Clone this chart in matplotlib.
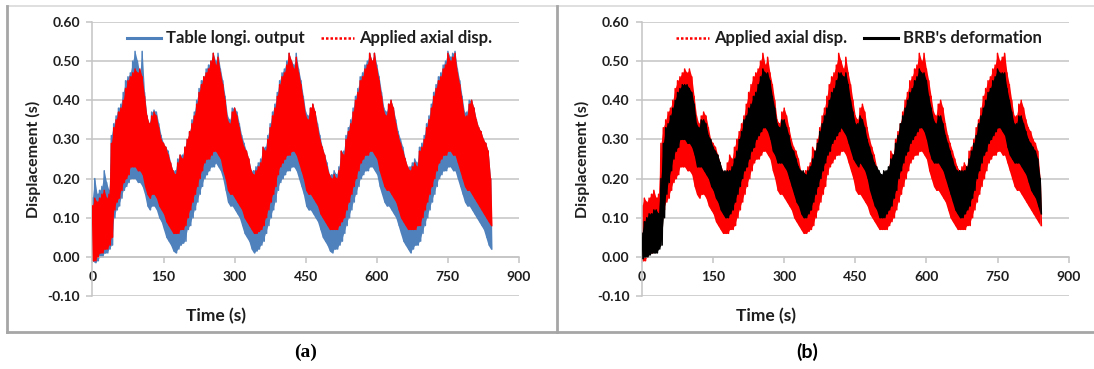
import numpy as np
import matplotlib
matplotlib.use("Agg")
import matplotlib.pyplot as plt
from matplotlib.lines import Line2D

plt.rcParams['font.family'] = ['Lato', 'DejaVu Sans']

# ---------------- data ----------------
# upper swings sampled every 5 s (0..840 s); lower swings 2.5 s later
sample_times = np.arange(0, 845, 5)

applied_hi = [
    0.13, 0.15, 0.14, 0.15, 0.16, 0.17, 0.15, 0.16,
    0.29, 0.33, 0.35, 0.37, 0.38, 0.40, 0.43, 0.45, 0.46, 0.47, 0.48, 0.47, 0.48, 0.46, 0.41,
    0.36, 0.34, 0.36, 0.37, 0.36, 0.33, 0.30, 0.29, 0.28, 0.26, 0.24, 0.22,
    0.21, 0.24, 0.26, 0.25, 0.28, 0.30, 0.32, 0.34, 0.36, 0.39, 0.42, 0.44, 0.46, 0.47, 0.48,
    0.50, 0.52, 0.49, 0.51, 0.47, 0.44, 0.40, 0.35, 0.34, 0.37, 0.38, 0.36, 0.33, 0.30, 0.28,
    0.27, 0.25, 0.22,
    0.21, 0.22, 0.23, 0.24, 0.28, 0.27, 0.30, 0.33, 0.36, 0.38, 0.41, 0.44, 0.46, 0.47, 0.49,
    0.52, 0.50, 0.48, 0.51, 0.47, 0.44, 0.40, 0.36, 0.35, 0.38, 0.39, 0.37, 0.33, 0.30, 0.28,
    0.26, 0.23, 0.21,
    0.20, 0.21, 0.20, 0.22, 0.27, 0.26, 0.30, 0.32, 0.34, 0.37, 0.40, 0.42, 0.45, 0.46, 0.48,
    0.49, 0.52, 0.50, 0.52, 0.48, 0.45, 0.41, 0.37, 0.36, 0.39, 0.40, 0.38, 0.34, 0.31, 0.29,
    0.27, 0.25, 0.23,
    0.22, 0.23, 0.24, 0.23, 0.27, 0.28, 0.30, 0.33, 0.35, 0.38, 0.41, 0.43, 0.45, 0.46, 0.48,
    0.49, 0.52, 0.50, 0.51, 0.52, 0.47, 0.44, 0.40, 0.36, 0.36, 0.39, 0.40, 0.38, 0.35, 0.33,
    0.32, 0.30, 0.29, 0.27, 0.20,
]
applied_lo = [
    -0.01, -0.01, 0.00, 0.01, 0.01, 0.02, 0.02, 0.03,
    0.05, 0.12, 0.14, 0.15, 0.17, 0.19, 0.20, 0.21, 0.23, 0.23, 0.23, 0.22, 0.22, 0.21, 0.18,
    0.16, 0.15, 0.16, 0.16, 0.15, 0.13, 0.12, 0.11, 0.09, 0.08, 0.07, 0.06,
    0.06, 0.06, 0.07, 0.07, 0.08, 0.10, 0.12, 0.14, 0.16, 0.18, 0.20, 0.22, 0.24, 0.25, 0.25,
    0.26, 0.27, 0.27, 0.26, 0.25, 0.22, 0.20, 0.17, 0.16, 0.16, 0.15, 0.14, 0.13, 0.12, 0.10,
    0.09, 0.08, 0.07,
    0.06, 0.06, 0.065, 0.07, 0.08, 0.10, 0.12, 0.14, 0.16, 0.18, 0.21, 0.23, 0.24, 0.25, 0.26,
    0.26, 0.27, 0.27, 0.26, 0.24, 0.22, 0.20, 0.17, 0.16, 0.16, 0.15, 0.14, 0.13, 0.11, 0.10,
    0.09, 0.08, 0.07,
    0.07, 0.07, 0.07, 0.08, 0.09, 0.10, 0.12, 0.14, 0.16, 0.18, 0.20, 0.22, 0.24, 0.25, 0.26,
    0.26, 0.27, 0.27, 0.26, 0.25, 0.22, 0.20, 0.18, 0.17, 0.17, 0.16, 0.15, 0.14, 0.12, 0.10,
    0.09, 0.08, 0.07,
    0.07, 0.07, 0.07, 0.08, 0.08, 0.10, 0.12, 0.14, 0.16, 0.18, 0.20, 0.22, 0.24, 0.25, 0.26,
    0.26, 0.27, 0.27, 0.26, 0.26, 0.24, 0.22, 0.20, 0.18, 0.17, 0.17, 0.16, 0.15, 0.14, 0.13,
    0.12, 0.11, 0.10, 0.09, 0.08,
]
table_hi = [
    0.15, 0.20, 0.16, 0.17, 0.18, 0.22, 0.19, 0.17,
    0.31, 0.34, 0.36, 0.38, 0.39, 0.42, 0.45, 0.46, 0.47, 0.50, 0.525, 0.50, 0.47, 0.525, 0.42,
    0.36, 0.34, 0.37, 0.375, 0.37, 0.34, 0.31, 0.29, 0.28, 0.27, 0.24, 0.22,
    0.22, 0.25, 0.26, 0.26, 0.28, 0.30, 0.32, 0.35, 0.37, 0.40, 0.43, 0.45, 0.46, 0.48, 0.49,
    0.50, 0.52, 0.50, 0.52, 0.48, 0.45, 0.41, 0.36, 0.35, 0.38, 0.38, 0.37, 0.34, 0.31, 0.29,
    0.27, 0.25, 0.22,
    0.22, 0.23, 0.24, 0.25, 0.28, 0.28, 0.31, 0.34, 0.37, 0.39, 0.42, 0.45, 0.47, 0.48, 0.50,
    0.52, 0.50, 0.49, 0.52, 0.48, 0.45, 0.41, 0.37, 0.36, 0.38, 0.39, 0.37, 0.34, 0.31, 0.28,
    0.26, 0.24, 0.21,
    0.21, 0.22, 0.21, 0.23, 0.27, 0.27, 0.31, 0.33, 0.35, 0.38, 0.41, 0.43, 0.46, 0.47, 0.49,
    0.50, 0.52, 0.50, 0.52, 0.49, 0.46, 0.42, 0.38, 0.37, 0.39, 0.40, 0.38, 0.35, 0.32, 0.30,
    0.28, 0.25, 0.23,
    0.23, 0.24, 0.25, 0.24, 0.28, 0.29, 0.31, 0.34, 0.36, 0.39, 0.42, 0.44, 0.46, 0.47, 0.49,
    0.50, 0.525, 0.51, 0.52, 0.525, 0.48, 0.45, 0.41, 0.37, 0.37, 0.40, 0.40, 0.38, 0.35, 0.33,
    0.32, 0.30, 0.29, 0.27, 0.20,
]
table_lo = [
    -0.01, -0.015, -0.01, 0.00, 0.00, 0.01, 0.01, 0.02,
    0.03, 0.10, 0.12, 0.13, 0.15, 0.17, 0.18, 0.19, 0.20, 0.20, 0.20, 0.19, 0.19, 0.18, 0.16,
    0.13, 0.12, 0.13, 0.13, 0.12, 0.10, 0.09, 0.07, 0.05, 0.04, 0.03, 0.015,
    0.01, 0.02, 0.03, 0.035, 0.04, 0.07, 0.08, 0.10, 0.12, 0.14, 0.16, 0.18, 0.20, 0.21, 0.22,
    0.23, 0.23, 0.24, 0.23, 0.22, 0.20, 0.17, 0.14, 0.13, 0.13, 0.12, 0.11, 0.10, 0.08, 0.06,
    0.05, 0.04, 0.02,
    0.01, 0.015, 0.02, 0.03, 0.04, 0.06, 0.08, 0.10, 0.12, 0.14, 0.17, 0.19, 0.20, 0.21, 0.22,
    0.22, 0.23, 0.23, 0.22, 0.20, 0.18, 0.16, 0.13, 0.12, 0.12, 0.11, 0.10, 0.09, 0.07, 0.05,
    0.04, 0.03, 0.015,
    0.01, 0.02, 0.02, 0.03, 0.04, 0.06, 0.08, 0.10, 0.12, 0.14, 0.16, 0.18, 0.20, 0.21, 0.22,
    0.22, 0.23, 0.23, 0.22, 0.21, 0.18, 0.16, 0.14, 0.13, 0.13, 0.12, 0.11, 0.10, 0.08, 0.06,
    0.04, 0.03, 0.02,
    0.01, 0.02, 0.03, 0.03, 0.04, 0.06, 0.08, 0.10, 0.12, 0.14, 0.16, 0.18, 0.20, 0.21, 0.22,
    0.22, 0.23, 0.23, 0.22, 0.22, 0.20, 0.18, 0.16, 0.14, 0.13, 0.13, 0.12, 0.11, 0.10, 0.09,
    0.08, 0.07, 0.05, 0.03, 0.02,
]
brb_hi = [
    0.06, 0.09, 0.10, 0.11, 0.11, 0.12, 0.12, 0.11,
    0.20, 0.29, 0.33, 0.34, 0.36, 0.38, 0.40, 0.42, 0.43, 0.44, 0.44, 0.44, 0.43, 0.42, 0.39,
    0.34, 0.33, 0.35, 0.35, 0.34, 0.31, 0.30, 0.28, 0.27, 0.26, 0.24, 0.22,
    0.22, 0.22, 0.22, 0.23, 0.25, 0.27, 0.30, 0.32, 0.35, 0.36, 0.38, 0.39, 0.41, 0.42, 0.44,
    0.46, 0.48, 0.47, 0.47, 0.45, 0.41, 0.38, 0.34, 0.33, 0.35, 0.35, 0.33, 0.31, 0.28, 0.27,
    0.25, 0.23, 0.22,
    0.22, 0.21, 0.22, 0.23, 0.25, 0.27, 0.29, 0.32, 0.34, 0.36, 0.38, 0.40, 0.42, 0.43, 0.45,
    0.47, 0.47, 0.46, 0.47, 0.44, 0.40, 0.37, 0.34, 0.34, 0.36, 0.35, 0.33, 0.30, 0.28, 0.26,
    0.24, 0.23, 0.22,
    0.21, 0.22, 0.22, 0.23, 0.25, 0.26, 0.29, 0.31, 0.34, 0.36, 0.38, 0.40, 0.42, 0.43, 0.45,
    0.46, 0.48, 0.47, 0.47, 0.45, 0.41, 0.38, 0.35, 0.34, 0.36, 0.36, 0.34, 0.31, 0.29, 0.27,
    0.25, 0.23, 0.22,
    0.22, 0.22, 0.22, 0.23, 0.25, 0.27, 0.29, 0.31, 0.34, 0.36, 0.38, 0.40, 0.42, 0.43, 0.45,
    0.46, 0.48, 0.47, 0.47, 0.47, 0.43, 0.40, 0.37, 0.34, 0.34, 0.36, 0.36, 0.34, 0.32, 0.30,
    0.29, 0.28, 0.27, 0.25, 0.20,
]
brb_lo = [
    -0.005, 0.00, 0.00, 0.005, 0.01, 0.01, 0.01, 0.02,
    0.03, 0.10, 0.16, 0.19, 0.22, 0.25, 0.27, 0.28, 0.30, 0.30, 0.30, 0.29, 0.29, 0.28, 0.26,
    0.23, 0.23, 0.23, 0.22, 0.21, 0.20, 0.18, 0.17, 0.15, 0.14, 0.12, 0.11,
    0.10, 0.10, 0.11, 0.12, 0.14, 0.16, 0.18, 0.20, 0.22, 0.23, 0.25, 0.27, 0.28, 0.30, 0.31,
    0.32, 0.33, 0.33, 0.32, 0.30, 0.27, 0.26, 0.24, 0.24, 0.24, 0.23, 0.22, 0.20, 0.18, 0.16,
    0.14, 0.13, 0.11,
    0.10, 0.10, 0.11, 0.12, 0.14, 0.16, 0.18, 0.20, 0.22, 0.24, 0.26, 0.27, 0.29, 0.30, 0.31,
    0.32, 0.33, 0.32, 0.31, 0.29, 0.27, 0.25, 0.24, 0.23, 0.24, 0.23, 0.22, 0.20, 0.17, 0.15,
    0.13, 0.12, 0.10,
    0.10, 0.10, 0.11, 0.12, 0.13, 0.15, 0.17, 0.20, 0.22, 0.24, 0.26, 0.27, 0.29, 0.30, 0.31,
    0.32, 0.33, 0.33, 0.32, 0.30, 0.27, 0.25, 0.24, 0.24, 0.24, 0.23, 0.22, 0.20, 0.18, 0.16,
    0.14, 0.12, 0.11,
    0.10, 0.10, 0.11, 0.12, 0.13, 0.15, 0.17, 0.20, 0.22, 0.24, 0.26, 0.27, 0.29, 0.30, 0.31,
    0.32, 0.33, 0.33, 0.32, 0.31, 0.28, 0.26, 0.25, 0.24, 0.24, 0.24, 0.23, 0.22, 0.21, 0.19,
    0.17, 0.16, 0.15, 0.13, 0.11,
]

x_ticks = [0, 150, 300, 450, 600, 750, 900]
y_ticks = [-0.10, 0.00, 0.10, 0.20, 0.30, 0.40, 0.50, 0.60]
x_label = "Time (s)"
y_label = "Displacement (s)"
name_table = "Table longi. output"
name_applied = "Applied axial disp."
name_brb = "BRB's deformation"
panel_labels = ["(a)", "(b)"]

# ---------------- style ----------------
BLUE = "#4F81BD"
RED = "#FF0000"
BLACK = "#000000"
GRID = "#C4C4C4"
TXT = "#1E1E1E"


def swing(hi, lo):
    n = len(sample_times)
    assert len(hi) == n and len(lo) == n
    t = np.empty(2 * n)
    v = np.empty(2 * n)
    t[0::2] = sample_times
    t[1::2] = sample_times + 2.5
    v[0::2] = hi
    v[1::2] = lo
    return t, v


def draw_signal(ax, hi, lo, color, z):
    ax.fill_between(sample_times, lo, hi, color=color, lw=0, zorder=z)
    t, v = swing(hi, lo)
    ax.plot(t, v, color=color, lw=1.1, zorder=z)


W, H = 1094, 369
fig = plt.figure(figsize=(W / 100, H / 100), dpi=100)


def fx(px):
    return px / W


def fy(py):
    return 1 - py / H


def style_axes(ax):
    ax.set_xlim(0, 900)
    ax.set_ylim(-0.10, 0.60)
    ax.set_xticks(x_ticks)
    ax.set_yticks(y_ticks)
    ax.set_yticklabels([f"{v:.2f}" for v in y_ticks])
    ax.set_xticklabels([str(v) for v in x_ticks])
    ax.grid(axis='y', color=GRID, lw=1.1, zorder=0)
    ax.set_axisbelow(True)
    for s in ['top', 'right']:
        ax.spines[s].set_visible(False)
    ax.spines['bottom'].set_position(('data', 0))
    ax.spines['bottom'].set_color(GRID)
    ax.spines['bottom'].set_linewidth(1.1)
    ax.spines['left'].set_color(GRID)
    ax.spines['left'].set_linewidth(1.1)
    ax.tick_params(axis='both', colors=GRID, length=4, width=1.1, direction='out')
    ax.tick_params(axis='y', pad=5, labelsize=10, labelcolor=TXT)
    ax.tick_params(axis='x', pad=6, labelsize=10, labelcolor=TXT)
    for lab in ax.get_xticklabels() + ax.get_yticklabels():
        lab.set_fontweight('bold')
    ax.set_xlabel(x_label, fontsize=12.5, fontweight='bold', color=TXT)
    ax.xaxis.label.set_va('center')
    ax.xaxis.set_label_coords(0.29, -0.073)
    ax.set_ylabel(y_label, fontsize=11.5, fontweight='bold', color=TXT)
    ax.yaxis.label.set_va('center')
    ax.yaxis.set_label_coords(-0.139, 0.5)


ax_w = (519 - 92.4) / W
ax_h = (296 - 22) / H
axA = fig.add_axes([fx(92.4), fy(296), ax_w, ax_h])
axB = fig.add_axes([fx(642), fy(296), ax_w, ax_h])

draw_signal(axA, table_hi, table_lo, BLUE, 2)
draw_signal(axA, applied_hi, applied_lo, RED, 3)
draw_signal(axB, applied_hi, applied_lo, RED, 2)
draw_signal(axB, brb_hi, brb_lo, BLACK, 3)

for ax in (axA, axB):
    style_axes(ax)

leg_font = {'weight': 'bold', 'size': 12}
hA = [Line2D([], [], color=BLUE, lw=2.2), Line2D([], [], color=RED, lw=1.8, ls=(0, (1, 0.8)))]
hB = [Line2D([], [], color=RED, lw=1.8, ls=(0, (1, 0.8))), Line2D([], [], color=BLACK, lw=2.2)]
legA = axA.legend(hA, [name_table, name_applied], loc='center', bbox_to_anchor=(0.51, 0.94),
                  ncol=2, frameon=False, prop=leg_font, handlelength=2.0, handletextpad=0.3,
                  columnspacing=1.0, borderaxespad=0)
legB = axB.legend(hB, [name_applied, name_brb], loc='center', bbox_to_anchor=(0.508, 0.94),
                  ncol=2, frameon=False, prop=leg_font, handlelength=2.0, handletextpad=0.3,
                  columnspacing=1.0, borderaxespad=0)
for leg in (legA, legB):
    for t in leg.get_texts():
        t.set_color(TXT)

# panel frames
dark = "#A6A6A6"
light = "#D9D9D9"
fig.add_artist(Line2D([fx(7), fx(1094)], [fy(6), fy(6)], color=light, lw=1.2))
fig.add_artist(Line2D([fx(7), fx(7)], [fy(6), fy(332)], color=dark, lw=2))
fig.add_artist(Line2D([fx(557), fx(557)], [fy(6), fy(332)], color=dark, lw=2))
fig.add_artist(Line2D([fx(7), fx(1094)], [fy(332), fy(332)], color=dark, lw=2))

fig.text(fx(306), fy(352), panel_labels[0], ha='center', va='center', fontsize=14,
         fontweight='bold', family=['Liberation Serif', 'DejaVu Serif'], color='black')
fig.text(fx(807), fy(352), panel_labels[1], ha='center', va='center', fontsize=14,
         fontweight='bold', color='black')

fig.savefig("out.png", dpi=100)
